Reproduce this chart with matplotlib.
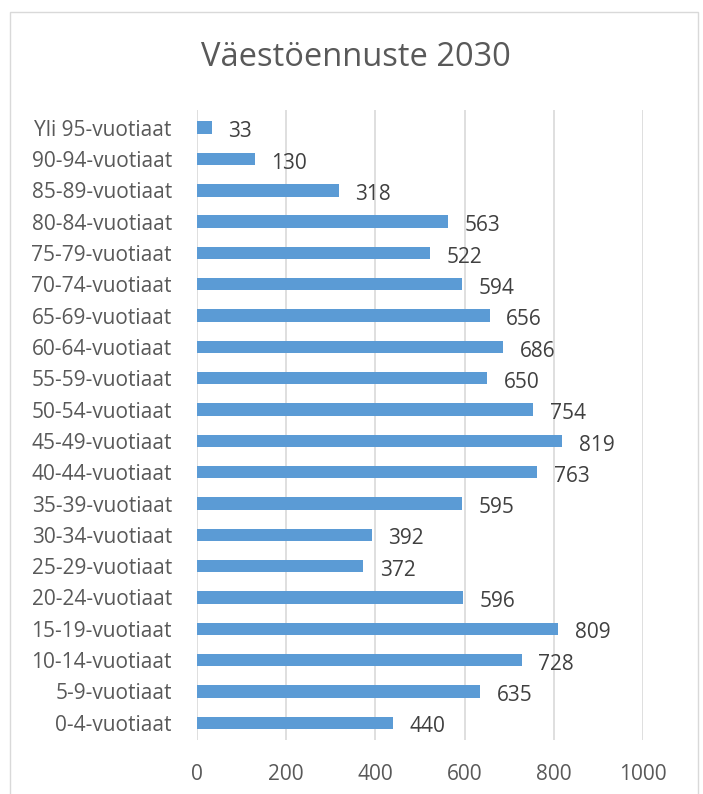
import matplotlib.pyplot as plt
from matplotlib.patches import Rectangle

ages = ["0-4-vuotiaat", "5-9-vuotiaat", "10-14-vuotiaat", "15-19-vuotiaat",
        "20-24-vuotiaat", "25-29-vuotiaat", "30-34-vuotiaat", "35-39-vuotiaat",
        "40-44-vuotiaat", "45-49-vuotiaat", "50-54-vuotiaat", "55-59-vuotiaat",
        "60-64-vuotiaat", "65-69-vuotiaat", "70-74-vuotiaat", "75-79-vuotiaat",
        "80-84-vuotiaat", "85-89-vuotiaat", "90-94-vuotiaat", "Yli 95-vuotiaat"]
people = [440, 635, 728, 809, 596, 372, 392, 595, 763, 819,
          754, 650, 686, 656, 594, 522, 563, 318, 130, 33]
xticks = [0, 200, 400, 600, 800, 1000]

plt.rcParams['font.family'] = ['Open Sans', 'DejaVu Sans']
txt = '#595959'

fig = plt.figure(figsize=(7.03, 7.94), dpi=100)
fig.patches.append(Rectangle((10 / 703, -0.01), 688 / 703, 1 - 12 / 794 + 0.01,
                             transform=fig.transFigure, fill=False,
                             edgecolor='#d9d9d9', linewidth=1))
ax = fig.add_axes([0.280, 0.068, 0.635, 0.793])

pos = list(range(len(ages)))
ax.barh(pos, people, height=0.4, color='#5b9bd5', zorder=3)
for p, v in zip(pos, people):
    ax.annotate(str(v), (v, p), xytext=(12, -3), textcoords='offset points',
                ha='left', va='center', fontsize=15, color='#404040')

ax.set_xlim(0, 1000)
ax.set_ylim(-0.55, 19.55)
ax.set_xticks(xticks)
ax.set_xticklabels([str(t) for t in xticks])
ax.set_yticks(pos)
ax.set_yticklabels(ages)
ax.tick_params(axis='both', length=0, labelsize=15, colors=txt)
ax.tick_params(axis='x', pad=17)
ax.tick_params(axis='y', pad=18)
ax.grid(axis='x', color='#d9d9d9', linewidth=1.2, zorder=0)
for s in ax.spines.values():
    s.set_visible(False)

fig.text(0.506, 0.928, "Väestöennuste 2030", ha='center', va='center',
         fontsize=23.5, color=txt)

fig.savefig('out.png', dpi=100)
